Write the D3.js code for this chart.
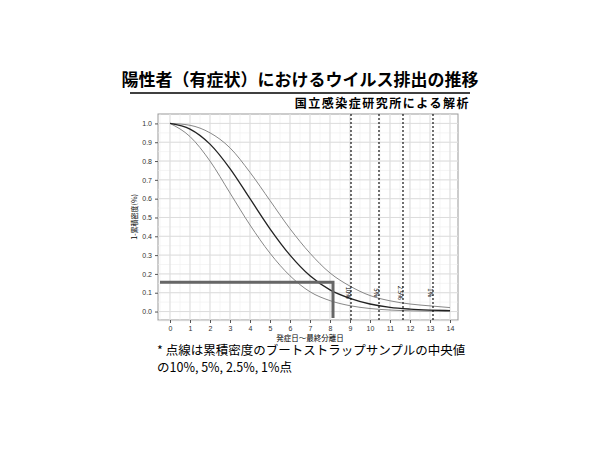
<!DOCTYPE html>
<html><head><meta charset="utf-8">
<script src="https://cdn.jsdelivr.net/npm/d3@7"></script>
<style>body{margin:0;background:#fff}svg{font-family:"Noto Sans CJK JP",sans-serif}</style>
</head><body><div id="chart"></div>
<script>
const days = [0,1,2,3,4,5,6,7,8,9,10,11,12,13,14]
const median = [1,0.97,0.89,0.76,0.6,0.44,0.3,0.19,0.115,0.07,0.04,0.022,0.013,0.008,0.005]
const lower = [1,0.93,0.8,0.63,0.46,0.31,0.19,0.105,0.058,0.031,0.016,0.008,0.004,0.002,0.001]
const upper = [1,0.99,0.95,0.87,0.74,0.59,0.44,0.31,0.205,0.135,0.085,0.057,0.04,0.03,0.021]
const cutoffs = [9.05, 10.45, 11.65, 13.15]
const cutoffLabels = ["10%", "5%", "2.5%", "1%"]
const highlightX = 8.15, highlightY = 0.155
const yTicks = [0,0.1,0.2,0.3,0.4,0.5,0.6,0.7,0.8,0.9,1.0]

const svg = d3.select("#chart").append("svg").attr("width", 600).attr("height", 450)
const x = d3.scaleLinear().domain([-0.6, 14.4]).range([158, 458])
const y = d3.scaleLinear().domain([-0.045, 1.05]).range([320, 114])

// title
svg.append("text").attr("x", 300).attr("y", 86).attr("text-anchor", "middle")
  .style("font-size", "17px").style("font-weight", "bold").text("陽性者（有症状）におけるウイルス排出の推移")
svg.append("line").attr("x1", 130).attr("x2", 470).attr("y1", 93).attr("y2", 93).attr("stroke", "#000").attr("stroke-width", 1.5)
svg.append("text").attr("x", 470).attr("y", 108).attr("text-anchor", "end")
  .style("font-size", "12px").style("font-weight", "bold").style("letter-spacing", "1.5px").text("国立感染症研究所による解析")

// panel
svg.append("rect").attr("x", 158).attr("y", 114).attr("width", 300).attr("height", 206)
  .attr("fill", "#fff").attr("stroke", "#999")
const g = svg.append("g")
const minorX = d3.range(-0.5, 14.5, 0.5), minorY = d3.range(-0.05, 1.05, 0.05)
g.selectAll(".mx").data(minorX).join("line").attr("x1", x).attr("x2", x).attr("y1", 114).attr("y2", 320)
  .attr("stroke", "#eee").attr("stroke-width", 0.6)
g.selectAll(".my").data(minorY).join("line").attr("y1", y).attr("y2", y).attr("x1", 158).attr("x2", 458)
  .attr("stroke", "#eee").attr("stroke-width", 0.6)
g.selectAll(".gx").data(days).join("line").attr("x1", x).attr("x2", x).attr("y1", 114).attr("y2", 320)
  .attr("stroke", "#ddd").attr("stroke-width", 1)
g.selectAll(".gy").data(yTicks).join("line").attr("y1", y).attr("y2", y).attr("x1", 158).attr("x2", 458)
  .attr("stroke", "#ddd").attr("stroke-width", 1)

// axes
const xa = svg.append("g").attr("transform", "translate(0,320)")
  .call(d3.axisBottom(x).tickValues(days).tickSize(3).tickFormat(d3.format("d")))
const ya = svg.append("g").attr("transform", "translate(158,0)")
  .call(d3.axisLeft(y).tickValues(yTicks).tickSize(3).tickFormat(d3.format(".1f")))
;[xa, ya].forEach(a => {
  a.select(".domain").remove()
  a.selectAll("text").style("font-size", "7px").attr("fill", "#333")
  a.selectAll("line").attr("stroke", "#555")
})
svg.append("text").attr("x", 310).attr("y", 341).attr("text-anchor", "middle").style("font-size", "7.5px").text("発症日〜最終分離日")
svg.append("text").attr("transform", "translate(137,217) rotate(-90)").attr("text-anchor", "middle")
  .style("font-size", "7px").text("1-累積密度(%)")

// curves
const line = arr => d3.line().x((d, i) => x(days[i])).y(d => y(d)).curve(d3.curveMonotoneX)(arr)
svg.append("path").attr("d", line(upper)).attr("fill", "none").attr("stroke", "#888").attr("stroke-width", 1)
svg.append("path").attr("d", line(lower)).attr("fill", "none").attr("stroke", "#888").attr("stroke-width", 1)
svg.append("path").attr("d", line(median)).attr("fill", "none").attr("stroke", "#222").attr("stroke-width", 1.3)

// cutoffs
svg.selectAll(".cut").data(cutoffs).join("line").attr("x1", x).attr("x2", x).attr("y1", 114).attr("y2", 320)
  .attr("stroke", "#111").attr("stroke-width", 1.2).attr("stroke-dasharray", "2,2")
svg.selectAll(".cutl").data(cutoffs).join("text")
  .attr("transform", d => `translate(${x(d) - 5},${y(0.1)}) rotate(90)`)
  .attr("text-anchor", "middle").style("font-size", "6px").text((d, i) => cutoffLabels[i])

// highlight
svg.append("path")
  .attr("d", `M${x(-0.5)},${y(highlightY)}H${x(highlightX)}V${y(-0.035)}`)
  .attr("fill", "none").attr("stroke", "#666").attr("stroke-width", 3)

// footnote
svg.append("text").attr("x", 157).attr("y", 355).style("font-size", "12.5px").text("* 点線は累積密度のブートストラップサンプルの中央値")
svg.append("text").attr("x", 157).attr("y", 372).style("font-size", "12.5px").text("の10%, 5%, 2.5%, 1%点")
</script></body></html>
